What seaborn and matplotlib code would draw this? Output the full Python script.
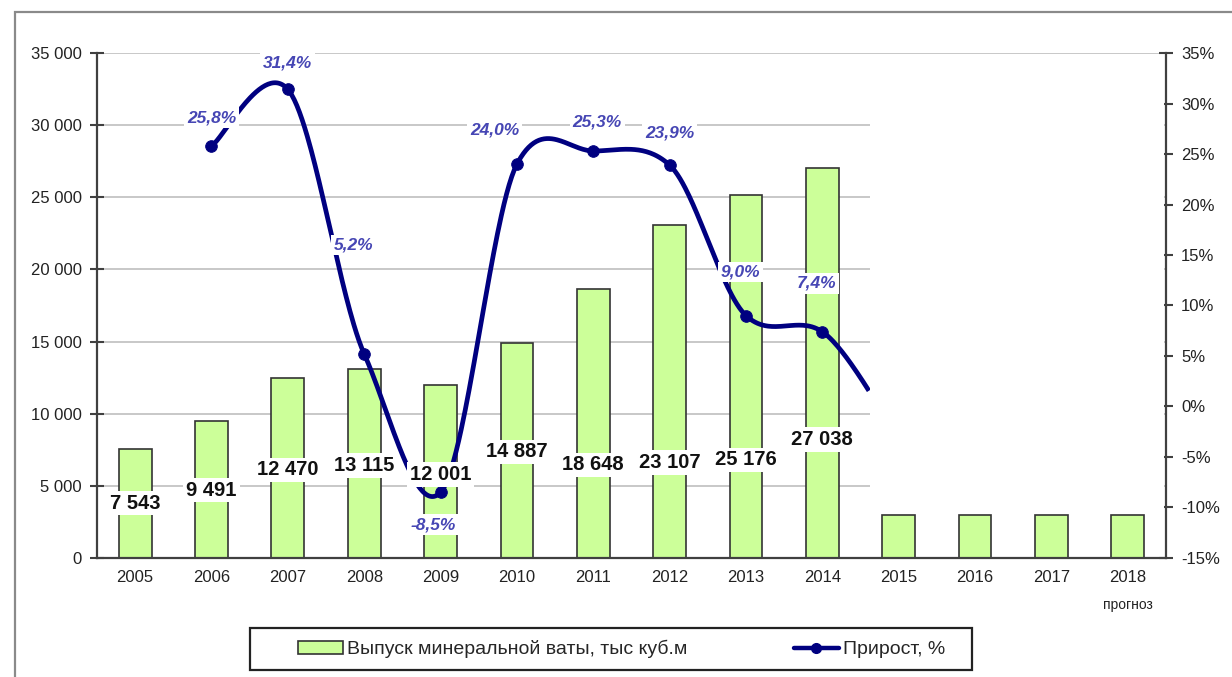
import numpy as np
import pandas as pd
import matplotlib
matplotlib.use('Agg')
import matplotlib.pyplot as plt
import matplotlib.transforms as mtransforms
from matplotlib.patches import Rectangle, Patch
from matplotlib.lines import Line2D
import seaborn as sns

# данные
years = ['2005', '2006', '2007', '2008', '2009', '2010', '2011',
         '2012', '2013', '2014', '2015', '2016', '2017', '2018']
output = [7543, 9491, 12470, 13115, 12001, 14887, 18648,
          23107, 25176, 27038, 3000, 3000, 3000, 3000]
n_labeled = 10  # подписаны только 2005-2014

growth_years = years[1:11]
growth = [25.8, 31.4, 5.2, -8.5, 24.0, 25.3, 23.9, 9.0, 7.4, -3.0]  # 2015 скрыт
n_growth_shown = 9

# раскладка подписей (высота центра подписи столбца)
bar_label_y = [3800, 4700, 6100, 6400, 5800, 7350, 6450, 6600, 6800, 8200]
# смещения подписей прироста (dx в категориях, y в %)
pct_label_dx = [0.0, 0.0, -0.14, -0.09, -0.29, 0.05, 0.0, -0.07, -0.08]
pct_label_y = [28.6, 34.0, 16.0, -11.7, 27.4, 28.2, 27.1, 13.3, 12.2]
MASK_X = 9.62  # где начинается белая заливка прогноза

BAR_COLOR = '#ccff99'
LINE_COLOR = '#000080'
PCT_COLOR = '#4646b4'
AXIS_COLOR = '#404040'

sns.set_style('white')
plt.rcParams['font.family'] = ['Liberation Sans', 'DejaVu Sans']


def smooth_curve(xs, ys, n=60, k=0.85):
    """Сглаживание линии (Catmull-Rom, как в Excel)."""
    xs = np.asarray(xs, float)
    ys = np.asarray(ys, float)
    px = np.concatenate([[xs[0]], xs, [xs[-1]]])
    py = np.concatenate([[ys[0]], ys, [ys[-1]]])
    out_x, out_y = [], []
    t = np.linspace(0, 1, n)
    h00 = 2 * t**3 - 3 * t**2 + 1
    h10 = t**3 - 2 * t**2 + t
    h01 = -2 * t**3 + 3 * t**2
    h11 = t**3 - t**2
    for i in range(1, len(px) - 2):
        mx0 = (px[i + 1] - px[i - 1]) / 2
        mx1 = (px[i + 2] - px[i]) / 2
        my0 = k * (py[i + 1] - py[i - 1]) / 2
        my1 = k * (py[i + 2] - py[i]) / 2
        out_x.extend(h00 * px[i] + h10 * mx0 + h01 * px[i + 1] + h11 * mx1)
        out_y.extend(h00 * py[i] + h10 * my0 + h01 * py[i + 1] + h11 * my1)
    return np.array(out_x), np.array(out_y)


df = pd.DataFrame({'year': years, 'output': output})

fig = plt.figure(figsize=(12.32, 6.77), dpi=100)
ax = fig.add_axes([0.0787, 0.1758, 0.8677, 0.7459])

sns.barplot(data=df, x='year', y='output', order=years, ax=ax,
            color=BAR_COLOR, saturation=1, edgecolor='#333333',
            linewidth=1.2, width=0.43, zorder=2)

ax.set_xlim(-0.5, len(years) - 0.5)
ax.set_ylim(0, 35000)
ax.set_yticks(np.arange(0, 35001, 5000))
ax.set_yticklabels([f'{v:,}'.replace(',', ' ') for v in range(0, 35001, 5000)])
ax.set_xlabel('')
ax.set_ylabel('')
ax.yaxis.grid(True, color='#c8c8c8', linewidth=1.4)
ax.set_axisbelow(True)

ax.set_xticks(np.arange(-0.5, len(years), 1.0), minor=True)
ax.tick_params(axis='x', which='major', length=0, labelsize=12, pad=9, colors='#222222')
ax.tick_params(axis='x', which='minor', direction='inout', length=9, width=1.5, color=AXIS_COLOR)
ax.tick_params(axis='y', direction='inout', length=10, width=1.5, color=AXIS_COLOR,
               labelsize=12, labelcolor='#222222', pad=6)
for s in ['top', 'right']:
    ax.spines[s].set_visible(False)
for s in ['left', 'bottom']:
    ax.spines[s].set_color(AXIS_COLOR)
    ax.spines[s].set_linewidth(1.6)

ax.text(len(years) - 1, -0.093, 'прогноз', transform=mtransforms.blended_transform_factory(
    ax.transData, ax.transAxes), ha='center', va='center', fontsize=10, color='#222222')

# правая ось
ax2 = ax.twinx()
ax2.set_ylim(-15, 35)
ax2.set_yticks(np.arange(-15, 36, 5))
ax2.set_yticklabels([f'{v}%' for v in range(-15, 36, 5)])
ax2.tick_params(axis='y', direction='inout', length=10, width=1.5, color=AXIS_COLOR,
                labelsize=12, labelcolor='#222222', pad=6)
for s in ['top', 'left', 'bottom']:
    ax2.spines[s].set_visible(False)
ax2.spines['right'].set_color(AXIS_COLOR)
ax2.spines['right'].set_linewidth(1.6)

gx = [years.index(y) for y in growth_years]
cx, cy = smooth_curve(gx, growth)
keep = cx <= MASK_X
ax2.plot(cx[keep], cy[keep], color=LINE_COLOR, linewidth=3.4, zorder=3,
         solid_capstyle='butt')
sns.scatterplot(x=gx[:n_growth_shown], y=growth[:n_growth_shown], ax=ax2,
                color=LINE_COLOR, s=70, edgecolor=LINE_COLOR, zorder=4, legend=False)

# белая область над прогнозом
ax2.add_patch(Rectangle((MASK_X, 3300), len(years) - 0.52 - MASK_X, 34800 - 3300,
                        transform=ax.transData, facecolor='white', edgecolor='none', zorder=5))

# подписи столбцов
for i in range(n_labeled):
    ax2.text(i, bar_label_y[i], f'{output[i]:,}'.replace(',', ' '), transform=ax.transData,
             ha='center', va='center', fontsize=14.5, fontweight='bold', color='#111111',
             zorder=6, bbox=dict(facecolor='white', edgecolor='none', pad=2))

# подписи прироста
for i in range(n_growth_shown):
    lbl = f'{growth[i]:.1f}'.replace('.', ',') + '%'
    ax2.text(gx[i] + pct_label_dx[i], pct_label_y[i], lbl, ha='center', va='center',
             fontsize=12.5, style='italic', fontweight='bold', color=PCT_COLOR, zorder=6,
             bbox=dict(facecolor='white', edgecolor='none', pad=2))

# легенда (рамка отдельно, содержимое смещено вправо как в Excel)
handles = [Patch(facecolor=BAR_COLOR, edgecolor='#333333', linewidth=1.2,
                 label='Выпуск минеральной ваты, тыс куб.м'),
           Line2D([0], [0], color=LINE_COLOR, linewidth=3.2, marker='o', markersize=7,
                  label='Прирост, %')]
fig.legend(handles=handles, loc='center', bbox_to_anchor=(0.5044, 0.041), ncol=2,
           frameon=False, handlelength=2.3, handleheight=0.6,
           columnspacing=5.5, handletextpad=0.2, prop={'size': 14})
fig.patches.append(Rectangle((250 / 1232, 1 - 670 / 677), 722 / 1232, 42 / 677,
                             transform=fig.transFigure, fill=False,
                             edgecolor='#222222', linewidth=1.6))

# рамка области диаграммы
fig.patches.append(Rectangle((15 / 1232, -0.1), 1.2, 1 - 12 / 677 + 0.1,
                             transform=fig.transFigure, fill=False,
                             edgecolor='#8a8a8a', linewidth=1.6))

fig.savefig('out.png', dpi=100)
